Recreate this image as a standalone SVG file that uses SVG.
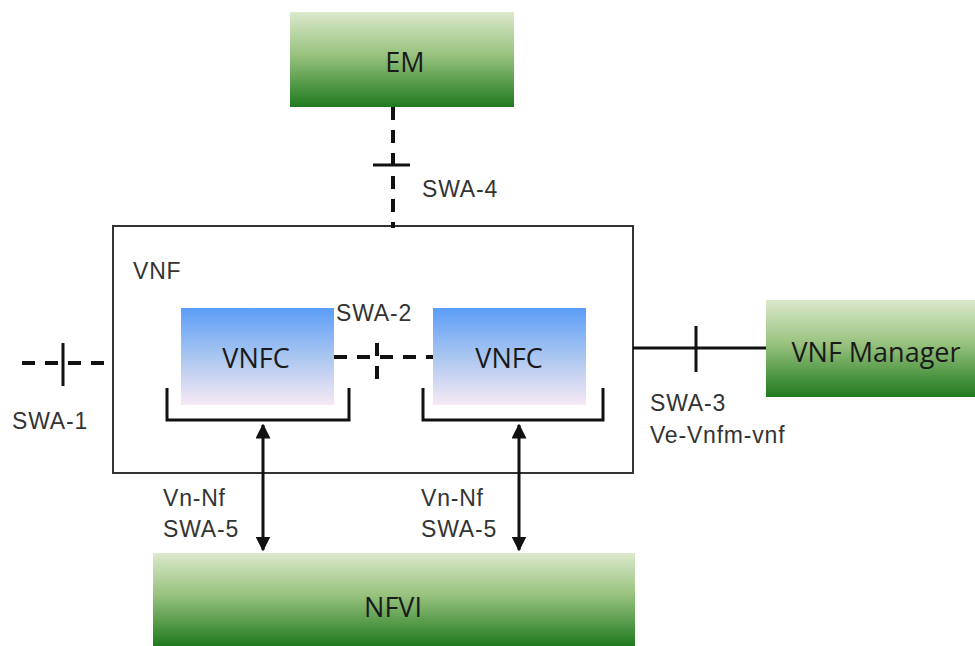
<svg xmlns="http://www.w3.org/2000/svg" width="975" height="646" viewBox="0 0 975 646">
<defs>
<linearGradient id="green" x1="0" y1="0" x2="0" y2="1">
<stop offset="0" stop-color="#dbe9cc"/>
<stop offset="0.45" stop-color="#98c27e"/>
<stop offset="1" stop-color="#1f7a1f"/>
</linearGradient>
<linearGradient id="blue" x1="0" y1="0" x2="0" y2="1">
<stop offset="0" stop-color="#5b9df8"/>
<stop offset="0.5" stop-color="#a9c6f0"/>
<stop offset="1" stop-color="#f7e9f5"/>
</linearGradient>
<marker id="arr" viewBox="0 0 10 10" refX="9" refY="5" markerWidth="5" markerHeight="5" orient="auto-start-reverse" markerUnits="strokeWidth">
<path d="M0,0 L10,5 L0,10 z" fill="#111"/>
</marker>
</defs>
<style>
.box{font-family:"Open Sans","Noto Sans",sans-serif;font-size:27px;fill:#1a1a1a;text-anchor:middle}
.lbl{font-family:"Liberation Sans",Arial,sans-serif;font-size:23px;fill:#333;letter-spacing:0.8px}
.dash{stroke:#111;stroke-width:4;stroke-dasharray:13,10;fill:none}
.solid{stroke:#111;stroke-width:3;fill:none}
.frame{stroke:#333;stroke-width:2;fill:#fff}
</style>
<rect width="975" height="646" fill="#fff"/>
<g id="vnf">
<rect class="frame" x="113" y="226" width="520" height="247"/>
<text class="lbl" x="133" y="279">VNF</text>
</g>
<g id="em">
<rect x="290" y="12" width="224" height="95" fill="url(#green)"/>
<text class="box" x="405" y="72">EM</text>
</g>
<g id="vnfm">
<rect x="766" y="300" width="209" height="97" fill="url(#green)"/>
<text class="box" x="876" y="362">VNF Manager</text>
</g>
<g id="nfvi">
<rect x="153" y="553" width="482" height="93" fill="url(#green)"/>
<text class="box" x="393" y="617">NFVI</text>
</g>
<g id="vnfc1">
<rect x="181" y="308" width="153" height="97" fill="url(#blue)"/>
<text class="box" x="256" y="368">VNFC</text>
<path class="solid" d="M167,388 V420 H349 V388"/>
</g>
<g id="vnfc2">
<rect x="433" y="308" width="153" height="97" fill="url(#blue)"/>
<text class="box" x="509" y="368">VNFC</text>
<path class="solid" d="M423,388 V420 H603 V388"/>
</g>
<g id="connectors">
<line class="dash" x1="393" y1="107" x2="393" y2="228"/>
<line class="solid" x1="373" y1="165" x2="410" y2="165"/>
<line class="dash" x1="22" y1="363" x2="113" y2="363"/>
<line class="solid" x1="63" y1="343" x2="63" y2="386"/>
<line class="dash" x1="334" y1="357" x2="433" y2="357"/>
<line class="dash" x1="377" y1="343" x2="377" y2="386" stroke-dasharray="14,9"/>
<line class="solid" x1="633" y1="348" x2="766" y2="348"/>
<line class="solid" x1="696" y1="326" x2="696" y2="372"/>
<line class="solid" x1="263" y1="425" x2="263" y2="550" marker-start="url(#arr)" marker-end="url(#arr)"/>
<line class="solid" x1="519" y1="425" x2="519" y2="550" marker-start="url(#arr)" marker-end="url(#arr)"/>
</g>
<g id="labels">
<text class="lbl" x="422" y="197">SWA-4</text>
<text class="lbl" x="12" y="429">SWA-1</text>
<text class="lbl" x="336" y="321">SWA-2</text>
<text class="lbl" x="650" y="411">SWA-3</text>
<text class="lbl" x="650" y="443">Ve-Vnfm-vnf</text>
<text class="lbl" x="163" y="506">Vn-Nf</text>
<text class="lbl" x="163" y="537">SWA-5</text>
<text class="lbl" x="421" y="506">Vn-Nf</text>
<text class="lbl" x="421" y="537">SWA-5</text>
</g>
</svg>
